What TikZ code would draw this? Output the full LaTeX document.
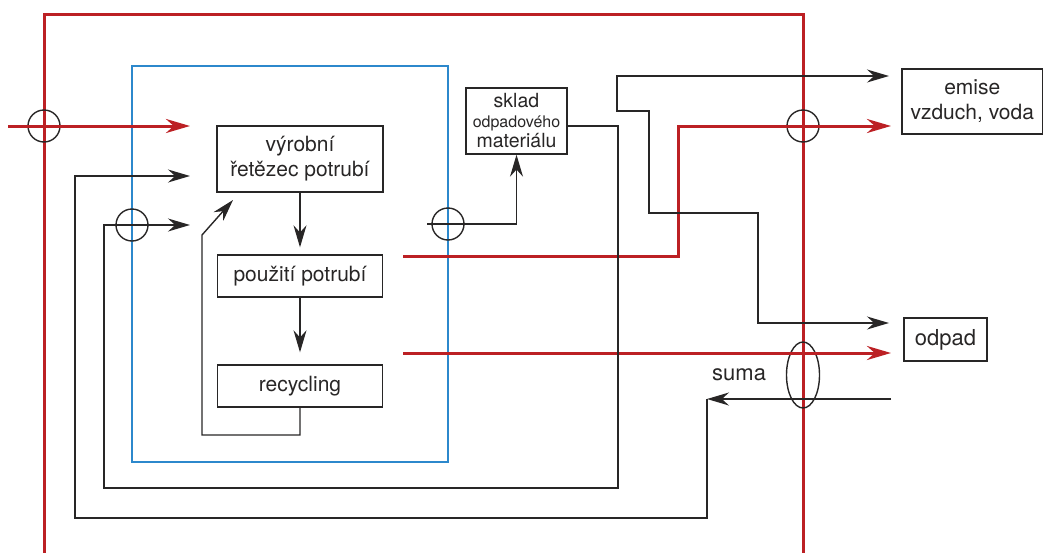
\documentclass[tikz,border=0pt]{standalone}
\usepackage{fontspec}
\setmainfont{TeX Gyre Heros}
\usetikzlibrary{arrows.meta,shapes.geometric}
\definecolor{myred}{RGB}{188,32,36}
\definecolor{myblue}{RGB}{44,136,204}
\definecolor{ink}{RGB}{40,38,38}
\newcommand\fMain{\fontsize{21}{25}\selectfont}
\newcommand\fSk{\fontsize{19.5}{20}\selectfont}
\newcommand\fBig{\fontsize{22}{26}\selectfont}
\begin{document}
\begin{tikzpicture}[x=1pt,y=-1pt,
  box/.style={draw=ink,line width=1.4pt,inner sep=0pt,align=center,text=ink,rectangle},
  flow/.style={draw=ink,line width=1.4pt},
  arr/.style={flow,-{Stealth[length=22pt,width=13pt]}},
  darr/.style={flow,{Stealth[length=22pt,width=13pt]}-{Stealth[length=22pt,width=13pt]}},
  redline/.style={draw=myred,line width=3pt},
  redarr/.style={redline,-{Stealth[length=24pt,width=14pt]}},
  ring/.style={draw=ink,line width=1.4pt,circle,minimum size=32pt,inner sep=0pt}]
\useasboundingbox (0,0) rectangle (1044,552);

% boundaries
\draw[redline] (44,560) -- (44,14) -- (803,14) -- (803,560);
\draw[draw=myblue,line width=2.8pt] (132,66) rectangle (448,462);

% boxes
\node[box,minimum width=166pt,minimum height=66pt,font=\fMain] (vyr) at (300,159) {výrobní\\řetězec potrubí};
\node[box,minimum width=165pt,minimum height=42pt,font=\fMain] (pou) at (300,276) {použití potrubí};
\node[box,minimum width=165pt,minimum height=42pt,font=\fMain] (rec) at (300,386) {recycling};
\node[box,minimum width=101pt,minimum height=66pt,font={\fontsize{19.5}{20}\selectfont}] (sklad) at (516.5,121) {sklad\\{\fontsize{16}{20}\selectfont odpadového}\\materiálu};
\node[box,minimum width=140.5pt,minimum height=65pt,font=\fMain] (emise) at (972.25,101.5) {emise\\vzduch, voda};
\node[box,minimum width=83pt,minimum height=43pt,font=\fBig] (odpad) at (945.5,339.5) {odpad};
\node[anchor=base west,inner sep=0pt,font=\fBig,text=ink] (suma) at (712,380) {suma};

% crossing marks
\node[ring] (c1) at (44,126) {};
\node[ring] (c2) at (132,225) {};
\node[ring] (c3) at (448,224) {};
\node[ring] (c4) at (803,126) {};
\node[draw=ink,line width=1.4pt,ellipse,minimum width=33pt,minimum height=66pt,inner sep=0pt] (ov) at (803,375) {};

% coordinates
\coordinate (rin) at (8,126);
\coordinate (rintip) at (190,126);
\coordinate (in1) at (190,176);
\coordinate (in2) at (190,225);
\coordinate (lt) at (233,200);
\coordinate (s3) at (427,224);
\coordinate (r1) at (403,256);
\coordinate (r2) at (403,353);
\coordinate (emtip) at (891,126);
\coordinate (odtip) at (891,353);
\coordinate (emA) at (889,76);
\coordinate (odA) at (889,323);
\coordinate (sumin) at (891,399);
\coordinate (sumtip) at (707,399);

% internal flows
\draw[arr,shorten >=7pt] (vyr.south) -- (pou.north);
\draw[arr,shorten >=12pt] (pou.south) -- (rec.north);
\draw[arr] (rec.south) -- (300,435) -- (202,435) -- (202,235) -- (lt);

% red flows
\draw[redarr] (rin) -- (rintip);
\draw[redarr] (r1) -- (678,256) -- (678,126) -- (emtip);
\draw[redarr] (r2) -- (odtip);

% storage
\draw[arr] (s3) -- (s3 -| sklad.south) -- (sklad.south);
\draw[arr] ([yshift=-5pt]sklad.east) -- (618,126) -- (618,488) -- (104,488) -- (104,225) -- (in2);

% emissions / waste
\draw[darr] (emA) -- (617,76) -- (617,111) -- (649,111) -- (649,213) -- (758,213) -- (758,323) -- (odA);

% sum return
\draw[arr] (sumin) -- (sumtip);
\draw[arr] (sumtip) -- (707,518) -- (75,518) -- (75,176) -- (in1);
\end{tikzpicture}
\end{document}
